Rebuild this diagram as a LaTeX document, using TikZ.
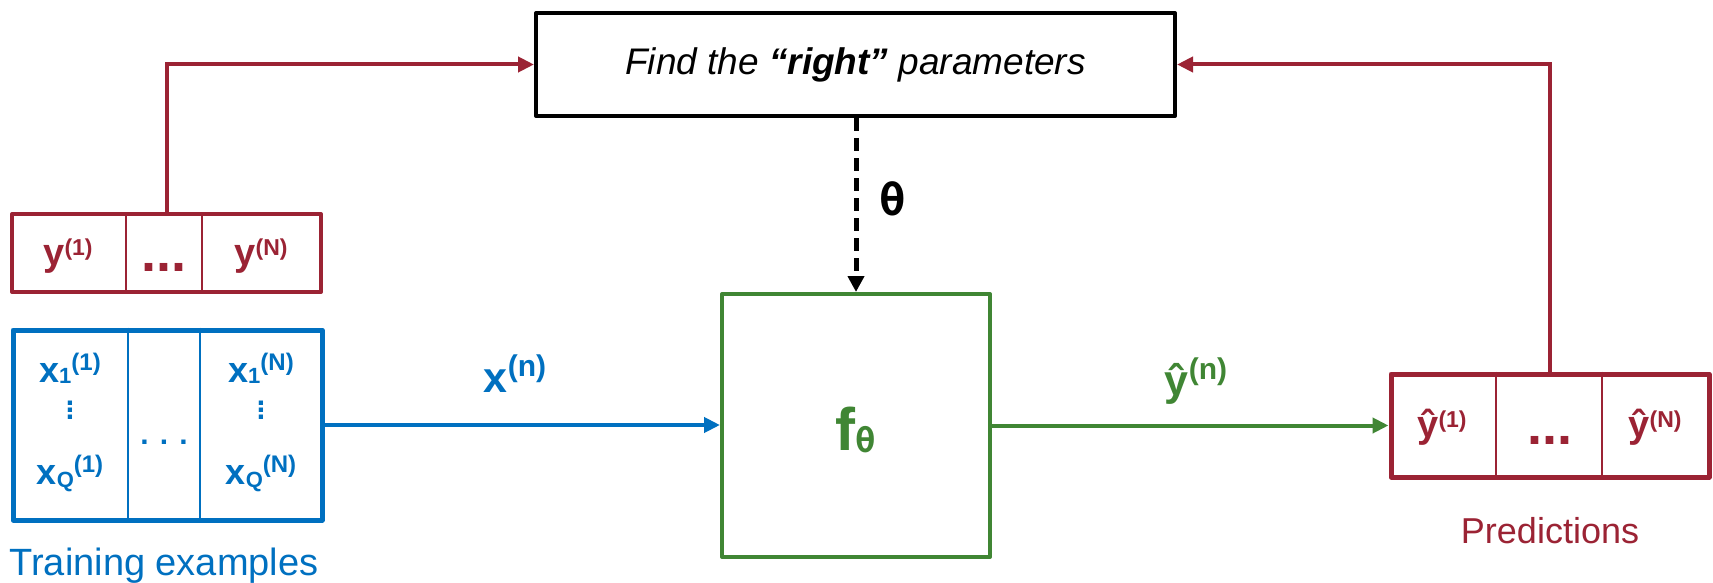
\documentclass[tikz,border=0pt]{standalone}
\usepackage{fontspec}
\setmainfont{Liberation Sans}
\newfontfamily\monofam{DejaVu Sans Mono}
\usetikzlibrary{arrows.meta}

\definecolor{dred}{RGB}{155,35,52}
\definecolor{mblue}{RGB}{0,112,192}
\definecolor{mgreen}{RGB}{64,134,52}

% font size in pt
\newcommand{\fsz}[1]{\fontsize{#1}{#1}\selectfont}
% raised / lowered small text: size, shift, text
\newcommand{\supbox}[3]{\raisebox{#2pt}{\fsz{#1}#3}}
\newcommand{\subbox}[3]{\raisebox{-#2pt}{\fsz{#1}#3}}
% three stacked dots
\newcommand{\vdotsbox}{\vbox{\baselineskip=7pt\lineskiplimit=-100pt\hbox{.}\hbox{.}\hbox{.}}}

\begin{document}
\begin{tikzpicture}[x=1pt,y=-1pt,
  box/.style={draw, rectangle, line join=round, inner sep=0pt},
  lab/.style={inner sep=0pt, anchor=base, font=\bfseries\fsz{38}},
  xlab/.style={inner sep=0pt, anchor=base, font=\bfseries\fsz{36}, text=mblue},
  dots/.style={inner sep=0pt, anchor=center},
  divider/.style={line width=2.5pt},
  conn/.style={line width=4pt, -{Triangle[length=16pt,width=15pt]}},
]
\useasboundingbox (0,0) rectangle (1713,583);

% parameter search box
\node[box, line width=4pt, minimum width=639pt, minimum height=103pt,
      font=\itshape\fsz{37}] (find) at (855.5,64.5)
      {Find the \textbf{“right”} parameters};

% model box
\node[box, draw=mgreen, line width=4pt, minimum width=268pt, minimum height=263pt]
      (fbox) at (856,425.5) {};
\node[inner sep=0pt, anchor=base, text=mgreen, font=\bfseries\fsz{60}] (fth) at (856,450)
      {f\subbox{34}{2}{\monofam\bfseries θ}};

% label of the parameter arrow
\node[inner sep=0pt, anchor=base, font=\monofam\bfseries\fsz{44}] (theta) at (893,215) {θ};

% target vector
\node[box, draw=dred, line width=4pt, minimum width=309pt, minimum height=78pt]
      (ybox) at (166.5,253) {};
\draw[dred, divider] (ybox.north -| 126,0) -- (ybox.south -| 126,0);
\draw[dred, divider] (ybox.north -| 202,0) -- (ybox.south -| 202,0);
\node[lab, text=dred] (y1) at (68,265) {y\supbox{23}{10}{(1)}};
\node[dots, text=dred, font=\bfseries\fsz{54}] (ydots) at (164,267) {...};
\node[lab, text=dred] (yN) at (261,265) {y\supbox{23}{10}{(N)}};

% training inputs
\node[box, draw=mblue, line width=5pt, minimum width=309pt, minimum height=190pt]
      (xbox) at (167.5,425) {};
\draw[mblue, divider] (xbox.north -| 128,0) -- (xbox.south -| 128,0);
\draw[mblue, divider] (xbox.north -| 200,0) -- (xbox.south -| 200,0);
\node[xlab] (x11) at (70,382) {x\subbox{22}{1}{1}\supbox{24}{12}{(1)}};
\node[dots, text=mblue, font=\bfseries\fsz{30}] (xv1) at (70,410) {\vdotsbox};
\node[xlab] (xQ1) at (70,484) {x\subbox{22}{3}{Q}\supbox{24}{12}{(1)}};
\node[xlab] (x1N) at (261,382) {x\subbox{22}{1}{1}\supbox{24}{12}{(N)}};
\node[dots, text=mblue, font=\bfseries\fsz{30}] (xvN) at (261,410) {\vdotsbox};
\node[xlab] (xQN) at (261,484) {x\subbox{22}{3}{Q}\supbox{24}{12}{(N)}};
\node[dots, text=mblue, font=\bfseries\fsz{30}] (xdots) at (164,442) {. . .};

% predictions
\node[box, draw=dred, line width=5pt, minimum width=318pt, minimum height=103pt]
      (pbox) at (1550,425.5) {};
\draw[dred, divider] (pbox.north -| 1496,0) -- (pbox.south -| 1496,0);
\draw[dred, divider] (pbox.north -| 1602,0) -- (pbox.south -| 1602,0);
\node[lab, text=dred] (p1) at (1442,437) {ŷ\supbox{23}{10}{(1)}};
\node[dots, text=dred, font=\bfseries\fsz{54}] (pdots) at (1550,440) {...};
\node[lab, text=dred] (pN) at (1655,437) {ŷ\supbox{23}{10}{(N)}};

% captions
\node[inner sep=0pt, anchor=base, text=dred, font=\fsz{36}] (predlab) at (1550,543) {Predictions};
\node[inner sep=0pt, anchor=base, text=mblue, font=\fsz{38}] (trainlab) at (164,575) {Training examples};

% arrow labels
\node[inner sep=0pt, anchor=base, text=mblue, font=\bfseries\fsz{43}] (xn) at (515,392)
      {x\supbox{30}{16}{(n)}};
\node[inner sep=0pt, anchor=base, text=mgreen, font=\bfseries\fsz{43}] (yn) at (1196,395)
      {ŷ\supbox{30}{16}{(n)}};

% connectors
\draw[conn, dred] (ybox.north) |- (find.west);
\draw[conn, dred] (pbox.north) |- (find.east);
\draw[conn, mblue] (xbox.east) -- (xbox.east -| fbox.west);
\draw[conn, mgreen] (fbox.east) -- (fbox.east -| pbox.west);
\draw[line width=5pt, dash pattern=on 13pt off 7pt, -{Triangle[length=16pt,width=16pt]}]
      (find.south -| fbox.north) -- (fbox.north);
\end{tikzpicture}
\end{document}
